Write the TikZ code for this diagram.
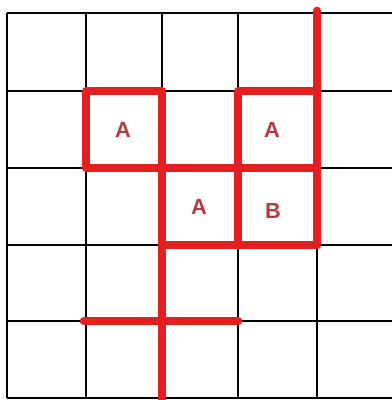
\documentclass[tikz,border=0pt]{standalone}
\usepackage{fontspec}
\setsansfont{Liberation Sans}
\definecolor{pathRed}{HTML}{E3201F}
\definecolor{cellText}{HTML}{B53A3E}
\tikzset{
  grid line/.style={draw=black, line width=1.2pt},
  red path/.style={draw=pathRed, line width=6.2pt, line cap=round, line join=round},
  cell label/.style={font=\sffamily\bfseries\fontsize{15.5}{15.5}\selectfont, text=cellText},
}

\begin{document}
\begin{tikzpicture}[x=0.25mm,y=-0.25mm]
  \useasboundingbox (0,0) rectangle (392,400);
  \fill[white] (0,0) rectangle (392,400);

  % grid
  \foreach \x in {7,86,162,238,317} {
    \draw[grid line] (\x,13) -- (\x,398);
  }
  \foreach \y in {13,91,168,245,321,398} {
    \draw[grid line] (7,\y) -- (392,\y);
  }
  \draw[grid line, line width=1.8pt] (317,245) -- (317,398);

  % red cuts
  \draw[red path] (86,91) rectangle (162,168);
  \draw[red path] (238,91) rectangle (317,245);
  \draw[red path] (317,11) -- (317,91);
  \draw[red path] (162,168) -- (238,168);
  \draw[red path] (238,168) -- (317,168);
  \draw[red path] (162,168) -- (162,402);
  \draw[red path] (162,245) -- (238,245);
  \draw[red path] (84,321) -- (238,321);

  % labels
  \node[cell label] (a1) at (123,130) {A};
  \node[cell label] (a2) at (272,130) {A};
  \node[cell label] (a3) at (199,207) {A};
  \node[cell label] (b1) at (273,211) {B};
\end{tikzpicture}
\end{document}
